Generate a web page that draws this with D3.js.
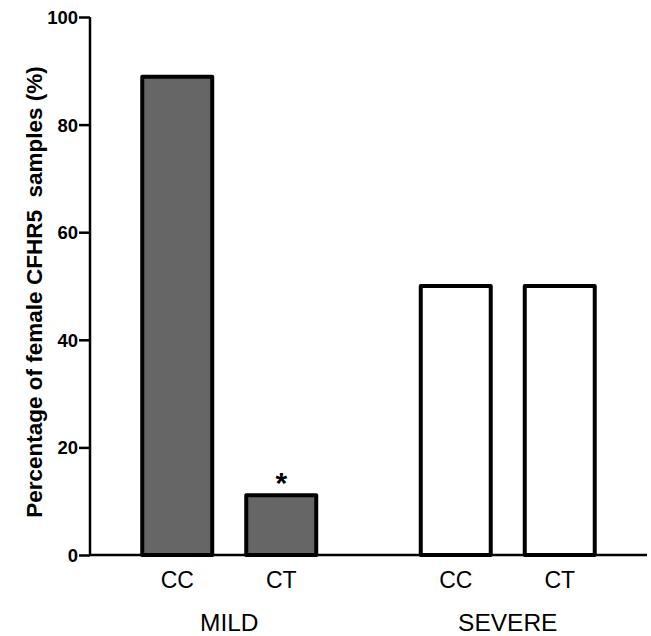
<!DOCTYPE html>
<html><head><meta charset="utf-8">
<script src="https://cdn.jsdelivr.net/npm/d3@7"></script>
<style>body{margin:0;background:#fff;} svg{display:block;font-family:"Liberation Sans",Arial,sans-serif;}</style>
</head><body>
<svg id="chart" width="651" height="636"></svg>
<script>
const groups = ["MILD", "SEVERE"];
const genotypes = ["CC", "CT"];
const mildValues = [88.9, 11.1];
const severeValues = [50, 50];
const groupFills = ["#666666", "#ffffff"];
const yTicks = [0, 20, 40, 60, 80, 100];
const significance = [{group: "MILD", genotype: "CT", label: "*"}];

const data = [];
groups.forEach((g, gi) => {
  const vals = gi === 0 ? mildValues : severeValues;
  genotypes.forEach((t, ti) => data.push({group: g, genotype: t, value: vals[ti], fill: groupFills[gi]}));
});

const svg = d3.select("#chart");
const axisX = 90, baseY = 555, topY = 17, rightX = 647;

const y = d3.scaleLinear().domain([0, 100]).range([baseY, topY]);
const x0 = d3.scalePoint().domain(groups).range([axisX, rightX]).padding(0.5);
const x1 = d3.scaleBand().domain(genotypes).range([-104, 104]).paddingInner(0.327).paddingOuter(0.1635);

// bars
svg.append("g").selectAll("rect").data(data).join("rect")
  .attr("x", d => x0(d.group) + x1(d.genotype))
  .attr("y", d => y(d.value))
  .attr("width", x1.bandwidth())
  .attr("height", d => y(0) - y(d.value))
  .attr("fill", d => d.fill)
  .attr("stroke", "#000")
  .attr("stroke-width", 4)
  .attr("stroke-linejoin", "round");

// y axis
const yAxis = d3.axisLeft(y).tickValues(yTicks).tickSize(11).tickPadding(1).tickFormat(d3.format("d"));
const ga = svg.append("g").attr("transform", `translate(${axisX},0)`).call(yAxis)
  .attr("font-size", null).attr("font-family", null);
ga.select(".domain").attr("stroke-width", 2.5).attr("d", `M0,${baseY}V${topY}`);
ga.selectAll(".tick line").attr("stroke-width", 2.5);
ga.selectAll(".tick text").style("font-size", "18.5px").style("font-weight", "bold").attr("fill", "#000")
  .attr("dy", "0.35em");

// x baseline
svg.append("line").attr("x1", axisX).attr("x2", rightX).attr("y1", baseY).attr("y2", baseY)
  .attr("stroke", "#000").attr("stroke-width", 2.5);

// genotype labels
svg.append("g").selectAll("text").data(data).join("text")
  .attr("x", d => x0(d.group) + x1(d.genotype) + x1.bandwidth() / 2)
  .attr("y", 588)
  .attr("text-anchor", "middle")
  .style("font-size", "23px")
  .text(d => d.genotype);

// group labels
svg.append("g").selectAll("text").data(groups).join("text")
  .attr("x", d => x0(d))
  .attr("y", 631)
  .attr("text-anchor", "middle")
  .style("font-size", "24.5px")
  .text(d => d);

// significance
svg.append("g").selectAll("text").data(significance).join("text")
  .attr("x", d => x0(d.group) + x1(d.genotype) + x1.bandwidth() / 2)
  .attr("y", d => y(data.find(e => e.group === d.group && e.genotype === d.genotype).value) - 2)
  .attr("text-anchor", "middle")
  .style("font-size", "30px")
  .style("font-weight", "bold")
  .text(d => d.label);

// y title
svg.append("text")
  .attr("transform", `translate(42,292) rotate(-90)`)
  .attr("text-anchor", "middle")
  .style("font-size", "22.5px")
  .style("font-weight", "bold")
  .style("white-space", "pre")
  .text("Percentage of female CFHR5  samples (%)");
</script>
</body></html>
